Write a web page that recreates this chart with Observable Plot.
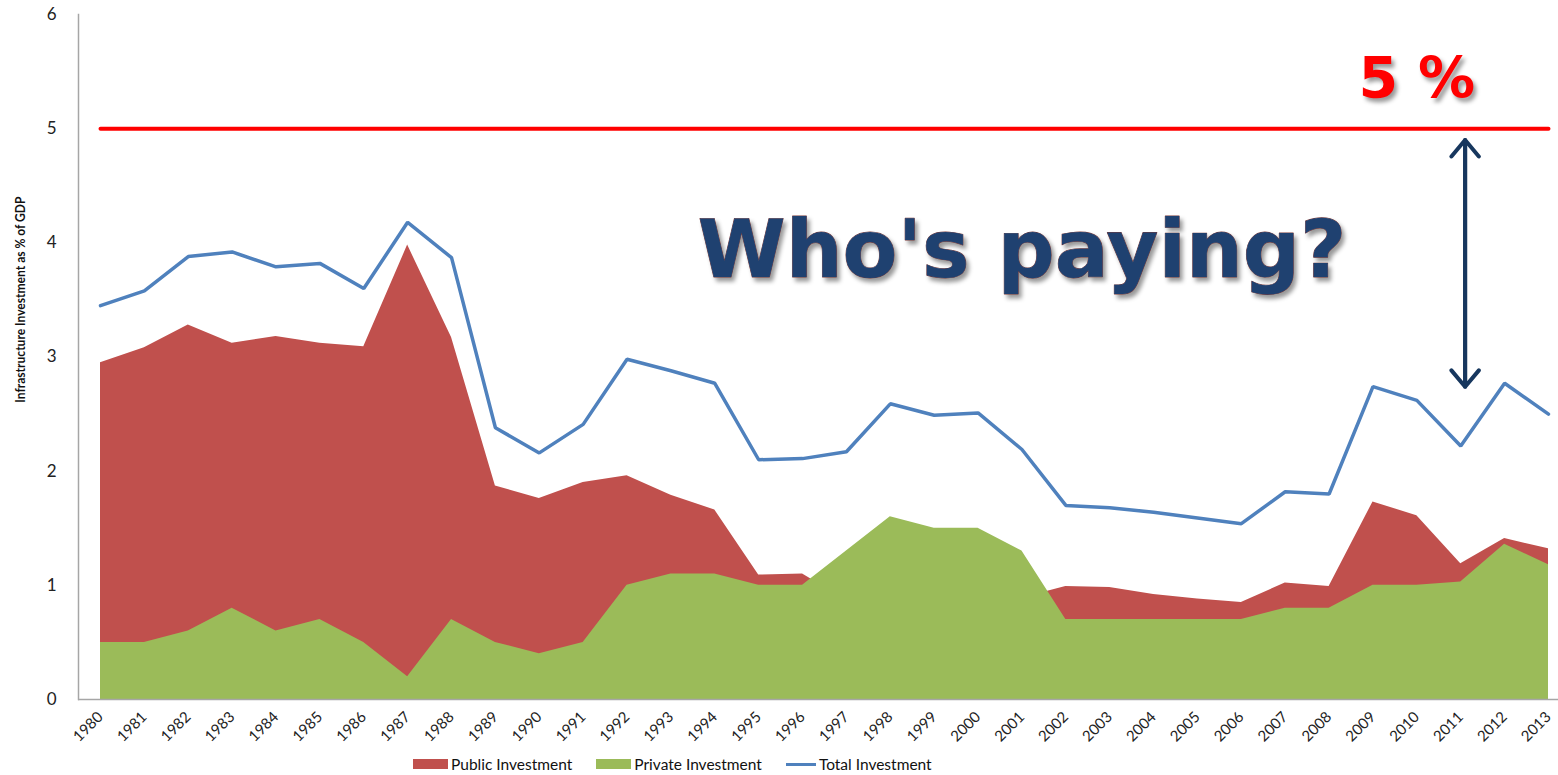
<!DOCTYPE html>
<html>
<head>
<meta charset="utf-8">
<script src="https://cdn.jsdelivr.net/npm/d3@7"></script>
<script src="https://cdn.jsdelivr.net/npm/@observablehq/plot@0.6"></script>
<style>
  html, body { margin: 0; padding: 0; background: #fff; }
  #chart { width: 1558px; height: 775px; position: relative; overflow: hidden; }
  #legend { display: flex; align-items: center; height: 30px; padding-top: 4px; padding-left: 413px; font-family: Lato, "Open Sans", sans-serif; font-size: 15.5px; color: #111; }
  .item { display: flex; align-items: center; margin-right: 24px; }
  .sw { width: 35px; height: 10px; margin-right: 3px; }
  .ln { width: 30px; height: 3px; margin-right: 3px; }
</style>
</head>
<body>
<div id="chart"></div>
<script>
const years = [1980,1981,1982,1983,1984,1985,1986,1987,1988,1989,1990,1991,1992,1993,1994,1995,1996,1997,1998,1999,2000,2001,2002,2003,2004,2005,2006,2007,2008,2009,2010,2011,2012,2013];
const publicInv = [2.95,3.08,3.28,3.12,3.18,3.12,3.09,3.98,3.17,1.87,1.76,1.90,1.96,1.79,1.66,1.09,1.10,0.87,1.00,0.99,1.01,0.89,0.99,0.98,0.92,0.88,0.85,1.02,0.99,1.73,1.61,1.19,1.41,1.32];
const privateInv = [0.5,0.5,0.6,0.8,0.6,0.7,0.5,0.2,0.7,0.5,0.4,0.5,1.0,1.1,1.1,1.0,1.0,1.3,1.6,1.5,1.5,1.3,0.7,0.7,0.7,0.7,0.7,0.8,0.8,1.0,1.0,1.03,1.36,1.18];
const totalInv = [3.45,3.58,3.88,3.92,3.79,3.82,3.60,4.18,3.87,2.38,2.16,2.41,2.98,2.88,2.77,2.10,2.11,2.17,2.59,2.49,2.51,2.19,1.70,1.68,1.64,1.59,1.54,1.82,1.80,2.74,2.62,2.22,2.77,2.50];
const yTicks = [0,1,2,3,4,5,6];
const seriesNames = ["Public Investment", "Private Investment", "Total Investment"];
const seriesColors = ["#c0504d", "#9bbb59", "#4f81bd"];
const target = 5;
const yLabel = "Infrastructure Investment as % of GDP";
const targetLabel = "5 %";
const headline = "Who's paying?";

const rows = years.map((y, i) => ({year: y, pub: publicInv[i], priv: privateInv[i], total: totalInv[i]}));
const targetLine = [{year: years[0], v: target}, {year: years[years.length - 1], v: target}];

const plot = Plot.plot({
  width: 1558,
  height: 745,
  marginLeft: 78,
  marginRight: 0,
  marginTop: 14,
  marginBottom: 46,
  style: {fontFamily: "Lato, 'Open Sans', sans-serif", background: "#fff"},
  x: {domain: [years[0], years[years.length - 1]], range: [100, 1548]},
  y: {domain: [0, 6]},
  marks: [
    Plot.areaY(rows, {x: "year", y1: 0, y2: "pub", fill: seriesColors[0]}),
    Plot.areaY(rows, {x: "year", y1: 0, y2: "priv", fill: seriesColors[1]}),
    Plot.lineY(rows, {x: "year", y: "total", stroke: seriesColors[2], strokeWidth: 3.5, strokeLinejoin: "miter"}),
    Plot.lineY(targetLine, {x: "year", y: "v", stroke: "#ff0000", strokeWidth: 4, strokeLinecap: "round"}),
    Plot.frame({anchor: "left", stroke: "#a6a6a6", strokeWidth: 1.5}),
    Plot.ruleY([0], {stroke: "#a6a6a6", strokeWidth: 1.5}),
    Plot.axisY({ticks: yTicks, tickFormat: d => String(d), tickSize: 0, tickPadding: 22, fontSize: 17, color: "#222", label: null}),
    Plot.axisX({ticks: years, tickFormat: d => String(d), tickSize: 0, tickPadding: 15, tickRotate: -45, fontSize: 15, color: "#222", label: null}),
    Plot.text([yLabel], {frameAnchor: "left", y: () => 2.6, dx: -58, rotate: -90, text: d => d, fontSize: 14, fontWeight: "bold", fill: "#111"}),
    Plot.text([targetLabel], {x: () => 2010, y: () => 5.27, text: d => d, lineAnchor: "bottom", fontSize: 57, fontWeight: "bold", fontFamily: "DejaVu Sans", fill: "#ff0000"}),
    Plot.text([headline], {x: () => 2001, y: () => 3.70, text: d => d, lineAnchor: "bottom", fontSize: 80, fontWeight: "bold", fontFamily: "DejaVu Sans", fill: "#1f4170", stroke: "#7a3b3b", strokeWidth: 0.8}),
    Plot.arrow([{x: 2011.1, a: 2.74, b: 4.9}], {x1: "x", x2: "x", y1: "a", y2: "b", stroke: "#17375e", strokeWidth: 4, headAngle: 80, headLength: 8}),
    Plot.arrow([{x: 2011.1, a: 4.9, b: 2.74}], {x1: "x", x2: "x", y1: "a", y2: "b", stroke: "#17375e", strokeWidth: 4, headAngle: 80, headLength: 8})
  ]
});

const svgSel = d3.select(plot);
svgSel.selectAll("text")
  .filter(function() { return this.textContent === headline || this.textContent === targetLabel; })
  .style("filter", "drop-shadow(3px 4px 2px rgba(0,0,0,0.4))");
svgSel.selectAll("text")
  .filter(function() { return this.textContent === yLabel; })
  .attr("textLength", 206)
  .attr("lengthAdjust", "spacingAndGlyphs");

const chart = document.getElementById("chart");
chart.appendChild(plot);

const legend = document.createElement("div");
legend.id = "legend";
seriesNames.forEach((name, i) => {
  const item = document.createElement("div");
  item.className = "item";
  const sw = document.createElement("div");
  sw.className = i === 2 ? "ln" : "sw";
  sw.style.background = seriesColors[i];
  const label = document.createElement("span");
  label.textContent = name;
  item.appendChild(sw);
  item.appendChild(label);
  legend.appendChild(item);
});
chart.appendChild(legend);
</script>
</body>
</html>
